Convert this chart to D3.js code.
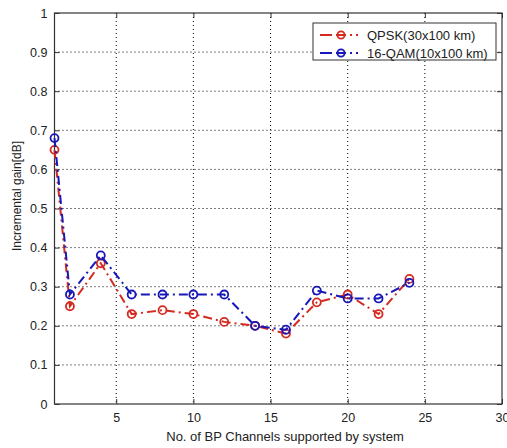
<!DOCTYPE html>
<html><head><meta charset="utf-8">
<script src="https://cdn.jsdelivr.net/npm/d3@7"></script>
<style>body{margin:0;background:#fff;}svg{display:block;font-family:"Liberation Sans",Arial,sans-serif;}</style>
</head><body><svg id="c" width="507" height="448"></svg>
<script>
const channels = [1,2,4,6,8,10,12,14,16,18,20,22,24];
const qpsk = [0.65,0.25,0.36,0.23,0.24,0.23,0.21,0.20,0.18,0.26,0.28,0.23,0.32];
const qam16 = [0.68,0.28,0.38,0.28,0.28,0.28,0.28,0.20,0.19,0.29,0.27,0.27,0.31];
const seriesNames = ["QPSK(30x100 km)","16-QAM(10x100 km)"];
const seriesColors = ["#d42a20","#1818b8"];
const xTicks = [5,10,15,20,25,30];
const yTicks = [0,0.1,0.2,0.3,0.4,0.5,0.6,0.7,0.8,0.9,1];

const svg = d3.select("#c");
const L=54.5,R=502,T=13,B=404;
const x = d3.scaleLinear().domain([1,30]).range([L,R]);
const y = d3.scaleLinear().domain([0,1]).range([B,T]);

// grid
const g = svg.append("g");
g.selectAll(".gx").data(xTicks.filter(d=>d<30)).enter().append("line")
 .attr("x1",d=>x(d)).attr("x2",d=>x(d)).attr("y1",T).attr("y2",B)
 .attr("stroke","#000").attr("stroke-width",1).attr("stroke-dasharray","1,3");
g.selectAll(".gy").data(yTicks.filter(d=>d>0&&d<1)).enter().append("line")
 .attr("x1",L).attr("x2",R).attr("y1",d=>y(d)).attr("y2",d=>y(d))
 .attr("stroke","#000").attr("stroke-width",1).attr("stroke-dasharray","1,3");

// axes
const xa = svg.append("g").attr("transform",`translate(0,${B})`)
 .call(d3.axisBottom(x).tickValues(xTicks).tickSizeInner(-5).tickSizeOuter(0).tickPadding(9));
const ya = svg.append("g").attr("transform",`translate(${L},0)`)
 .call(d3.axisLeft(y).tickValues(yTicks).tickFormat(d3.format("")).tickSizeInner(-5).tickSizeOuter(0).tickPadding(7));
const xt = svg.append("g").attr("transform",`translate(0,${T})`)
 .call(d3.axisTop(x).tickValues(xTicks).tickSizeInner(-5).tickSizeOuter(0).tickFormat(""));
const yr = svg.append("g").attr("transform",`translate(${R},0)`)
 .call(d3.axisRight(y).tickValues(yTicks).tickSizeInner(-5).tickSizeOuter(0).tickFormat(""));
[xa,ya,xt,yr].forEach(a=>{a.select(".domain").remove();a.selectAll("line").attr("stroke","#333");
 a.selectAll("text").attr("font-size",12.5).attr("fill","#222").attr("font-family","Liberation Sans, Arial, sans-serif");});
svg.append("rect").attr("x",L).attr("y",T).attr("width",R-L).attr("height",B-T)
 .attr("fill","none").attr("stroke","#333").attr("stroke-width",1.2);

// series
const data = [qpsk,qam16];
const line = d3.line().x((d,i)=>x(channels[i])).y(d=>y(d));
data.forEach((vals,k)=>{
  svg.append("path").datum(vals).attr("d",line).attr("fill","none")
   .attr("stroke",seriesColors[k]).attr("stroke-width",2).attr("stroke-dasharray","9,4,2,4");
  svg.selectAll(".m"+k).data(vals).enter().append("circle")
   .attr("cx",(d,i)=>x(channels[i])).attr("cy",d=>y(d)).attr("r",4)
   .attr("fill","none").attr("stroke",seriesColors[k]).attr("stroke-width",1.8);
});

// legend
const lg = svg.append("g");
lg.append("rect").attr("x",313).attr("y",23).attr("width",183).attr("height",37)
 .attr("fill","#fff").attr("stroke","#333").attr("stroke-width",1);
seriesNames.forEach((n,k)=>{
  const ly = 35 + k*18;
  lg.append("line").attr("x1",320).attr("x2",364).attr("y1",ly).attr("y2",ly)
   .attr("stroke",seriesColors[k]).attr("stroke-width",2).attr("stroke-dasharray","12,4,10,4,2,4,2,6");
  lg.append("circle").attr("cx",341).attr("cy",ly).attr("r",3.6).attr("fill","none")
   .attr("stroke",seriesColors[k]).attr("stroke-width",1.8);
  lg.append("text").attr("x",367).attr("y",ly+4.5).attr("font-size",13).attr("fill","#222").text(n);
});

// labels
svg.append("text").attr("x",285).attr("y",441).attr("text-anchor","middle")
 .attr("font-size",13).attr("fill","#222").text("No. of BP Channels supported by system");
svg.append("text").attr("transform",`translate(21,196) rotate(-90)`).attr("text-anchor","middle")
 .attr("font-size",12).attr("fill","#222").text("Incremental gain[dB]");
</script></body></html>
